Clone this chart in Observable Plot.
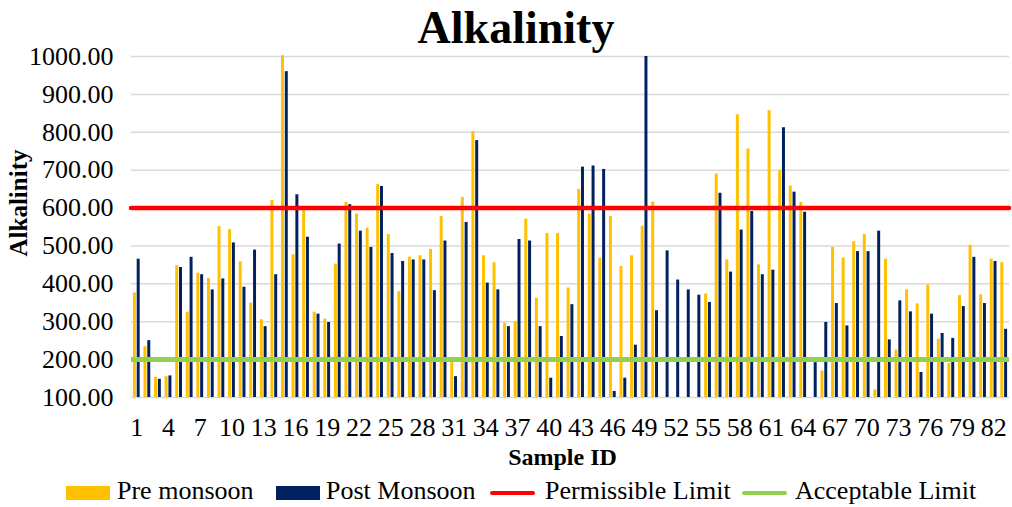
<!DOCTYPE html>
<html>
<head>
<meta charset="utf-8">
<script src="https://cdn.jsdelivr.net/npm/d3@7"></script>
<script src="https://cdn.jsdelivr.net/npm/@observablehq/plot@0.6"></script>
<style>
  body { margin: 0; background: #fff; width: 1012px; height: 507px; overflow: hidden; font-family: "Liberation Serif", serif; color: #000; }
  #title { position: relative; z-index: 2; top: 8px; height: 40px; line-height: 40px; font-size: 46px; font-weight: bold; text-align: center; padding-left: 20px; box-sizing: border-box; }
  #chart { position: relative; z-index: 1; height: 435px; }
  #legend { position: relative; height: 32px; font-size: 26px; }
  .sw { position: absolute; }
  .lt { position: absolute; top: 2px; line-height: 1.1; white-space: nowrap; }
</style>
</head>
<body>
<div id="title">Alkalinity</div>
<div id="chart"></div>
<div id="legend"></div>
<script>
const sampleIds = d3.range(1, 84);
const xTicks = [1, 4, 7, 10, 13, 16, 19, 22, 25, 28, 31, 34, 37, 40, 43, 46, 49, 52, 55, 58, 61, 64, 67, 70, 73, 76, 79, 82];
const yTicks = [100, 200, 300, 400, 500, 600, 700, 800, 900, 1000];

const preMonsoon = [
  376, 234, 153, 155, 448, 325, 428, 414, 551, 543,
  458, 349, 305, 620, 1002, 477, 593, 325, 307, 452,
  615, 584, 547, 662, 530, 379, 470, 474, 491, 578,
  192, 628, 802, 474, 456, 296, 301, 571, 362, 533,
  533, 389, 649, 584, 468, 578, 446, 474, 552, 616,
  null, null, null, null, 373, 690, 463, 846, 756, 450,
  857, 699, 658, 615, null, 170, 496, 468, 511, 530,
  120, 465, 225, 384, 347, 397, 254, 190, 369, 502,
  371, 465, 456
];
const postMonsoon = [
  465, 250, 148, 157, 443, 470, 424, 384, 413, 508,
  391, 489, 287, 424, 960, 635, 523, 320, 298, 505,
  609, 539, 496, 657, 480, 459, 463, 463, 382, 513,
  155, 562, 778, 402, 384, 287, 517, 513, 287, 151,
  261, 345, 708, 711, 702, 116, 151, 238, 1000, 329,
  487, 410, 384, 370, 351, 639, 431, 542, 591, 424,
  436, 812, 642, 589, 192, 298, 348, 289, 485, 485,
  539, 252, 355, 326, 166, 320, 269, 256, 340, 470,
  348, 459, 280
];
const permissibleLimit = 600;
const acceptableLimit = 200;

const seriesNames = ["Pre monsoon", "Post Monsoon", "Permissible Limit", "Acceptable Limit"];
const colors = { pre: "#ffc000", post: "#002060", permissible: "#ff0000", acceptable: "#92d050" };

const rows = sampleIds.map((id, i) => ({ id, pre: preMonsoon[i], post: postMonsoon[i] }));

const chart = Plot.plot({
  width: 1012,
  height: 435,
  marginTop: 16,
  marginBottom: 78,
  marginLeft: 131,
  marginRight: 3,
  style: { fontFamily: "'Liberation Serif', serif", fontSize: "26px", color: "#000", background: "transparent", overflow: "visible" },
  x: { type: "band", domain: sampleIds, padding: 0, axis: null },
  y: { domain: [100, 1000], axis: null },
  marks: [
    Plot.gridY(yTicks, { stroke: "#d9d9d9", strokeOpacity: 1, strokeWidth: 1.5 }),
    Plot.barY(rows.filter(d => d.pre != null), { x: "id", y1: () => 100, y2: "pre", fill: colors.pre, insetLeft: 3.8, insetRight: 3.8, dx: -1.9 }),
    Plot.barY(rows.filter(d => d.post != null), { x: "id", y1: () => 100, y2: "post", fill: colors.post, insetLeft: 3.8, insetRight: 3.8, dx: 1.9 }),
    Plot.ruleY([permissibleLimit], { stroke: colors.permissible, strokeWidth: 4.5, strokeLinecap: "round" }),
    Plot.ruleY([acceptableLimit], { stroke: colors.acceptable, strokeWidth: 5 }),
    Plot.axisY({ ticks: yTicks, tickFormat: d => d.toFixed(2), tickSize: 0, tickPadding: 18, label: null, fontSize: 26 }),
    Plot.axisX({ ticks: xTicks, tickSize: 0, tickPadding: 20, label: null, fontSize: 26 }),
    Plot.text(["Sample ID"], { text: d => d, frameAnchor: "bottom", dy: 67, dx: -8, fontWeight: "bold", fontSize: 24 }),
    Plot.text(["Alkalinity"], { text: d => d, frameAnchor: "left", textAnchor: "middle", dx: -113, dy: -24, rotate: -90, fontWeight: "bold", fontSize: 25 })
  ]
});
document.getElementById("chart").appendChild(chart);

// Legend
const legend = document.getElementById("legend");
const items = [
  { name: seriesNames[0], color: colors.pre, kind: "rect", left: 66, textLeft: 117 },
  { name: seriesNames[1], color: colors.post, kind: "rect", left: 276, textLeft: 326 },
  { name: seriesNames[2], color: colors.permissible, kind: "line", left: 490, textLeft: 545 },
  { name: seriesNames[3], color: colors.acceptable, kind: "line", left: 742, textLeft: 795 }
];
for (const it of items) {
  const sw = document.createElement("div");
  sw.className = "sw";
  sw.style.left = it.left + "px";
  sw.style.background = it.color;
  if (it.kind === "rect") {
    sw.style.width = "44px"; sw.style.height = "14px"; sw.style.top = "11px";
  } else {
    sw.style.width = "45px"; sw.style.height = "4px"; sw.style.top = "16px"; sw.style.borderRadius = "2px";
  }
  legend.appendChild(sw);
  const t = document.createElement("div");
  t.className = "lt";
  t.style.left = it.textLeft + "px";
  t.textContent = it.name;
  legend.appendChild(t);
}
</script>
</body>
</html>
